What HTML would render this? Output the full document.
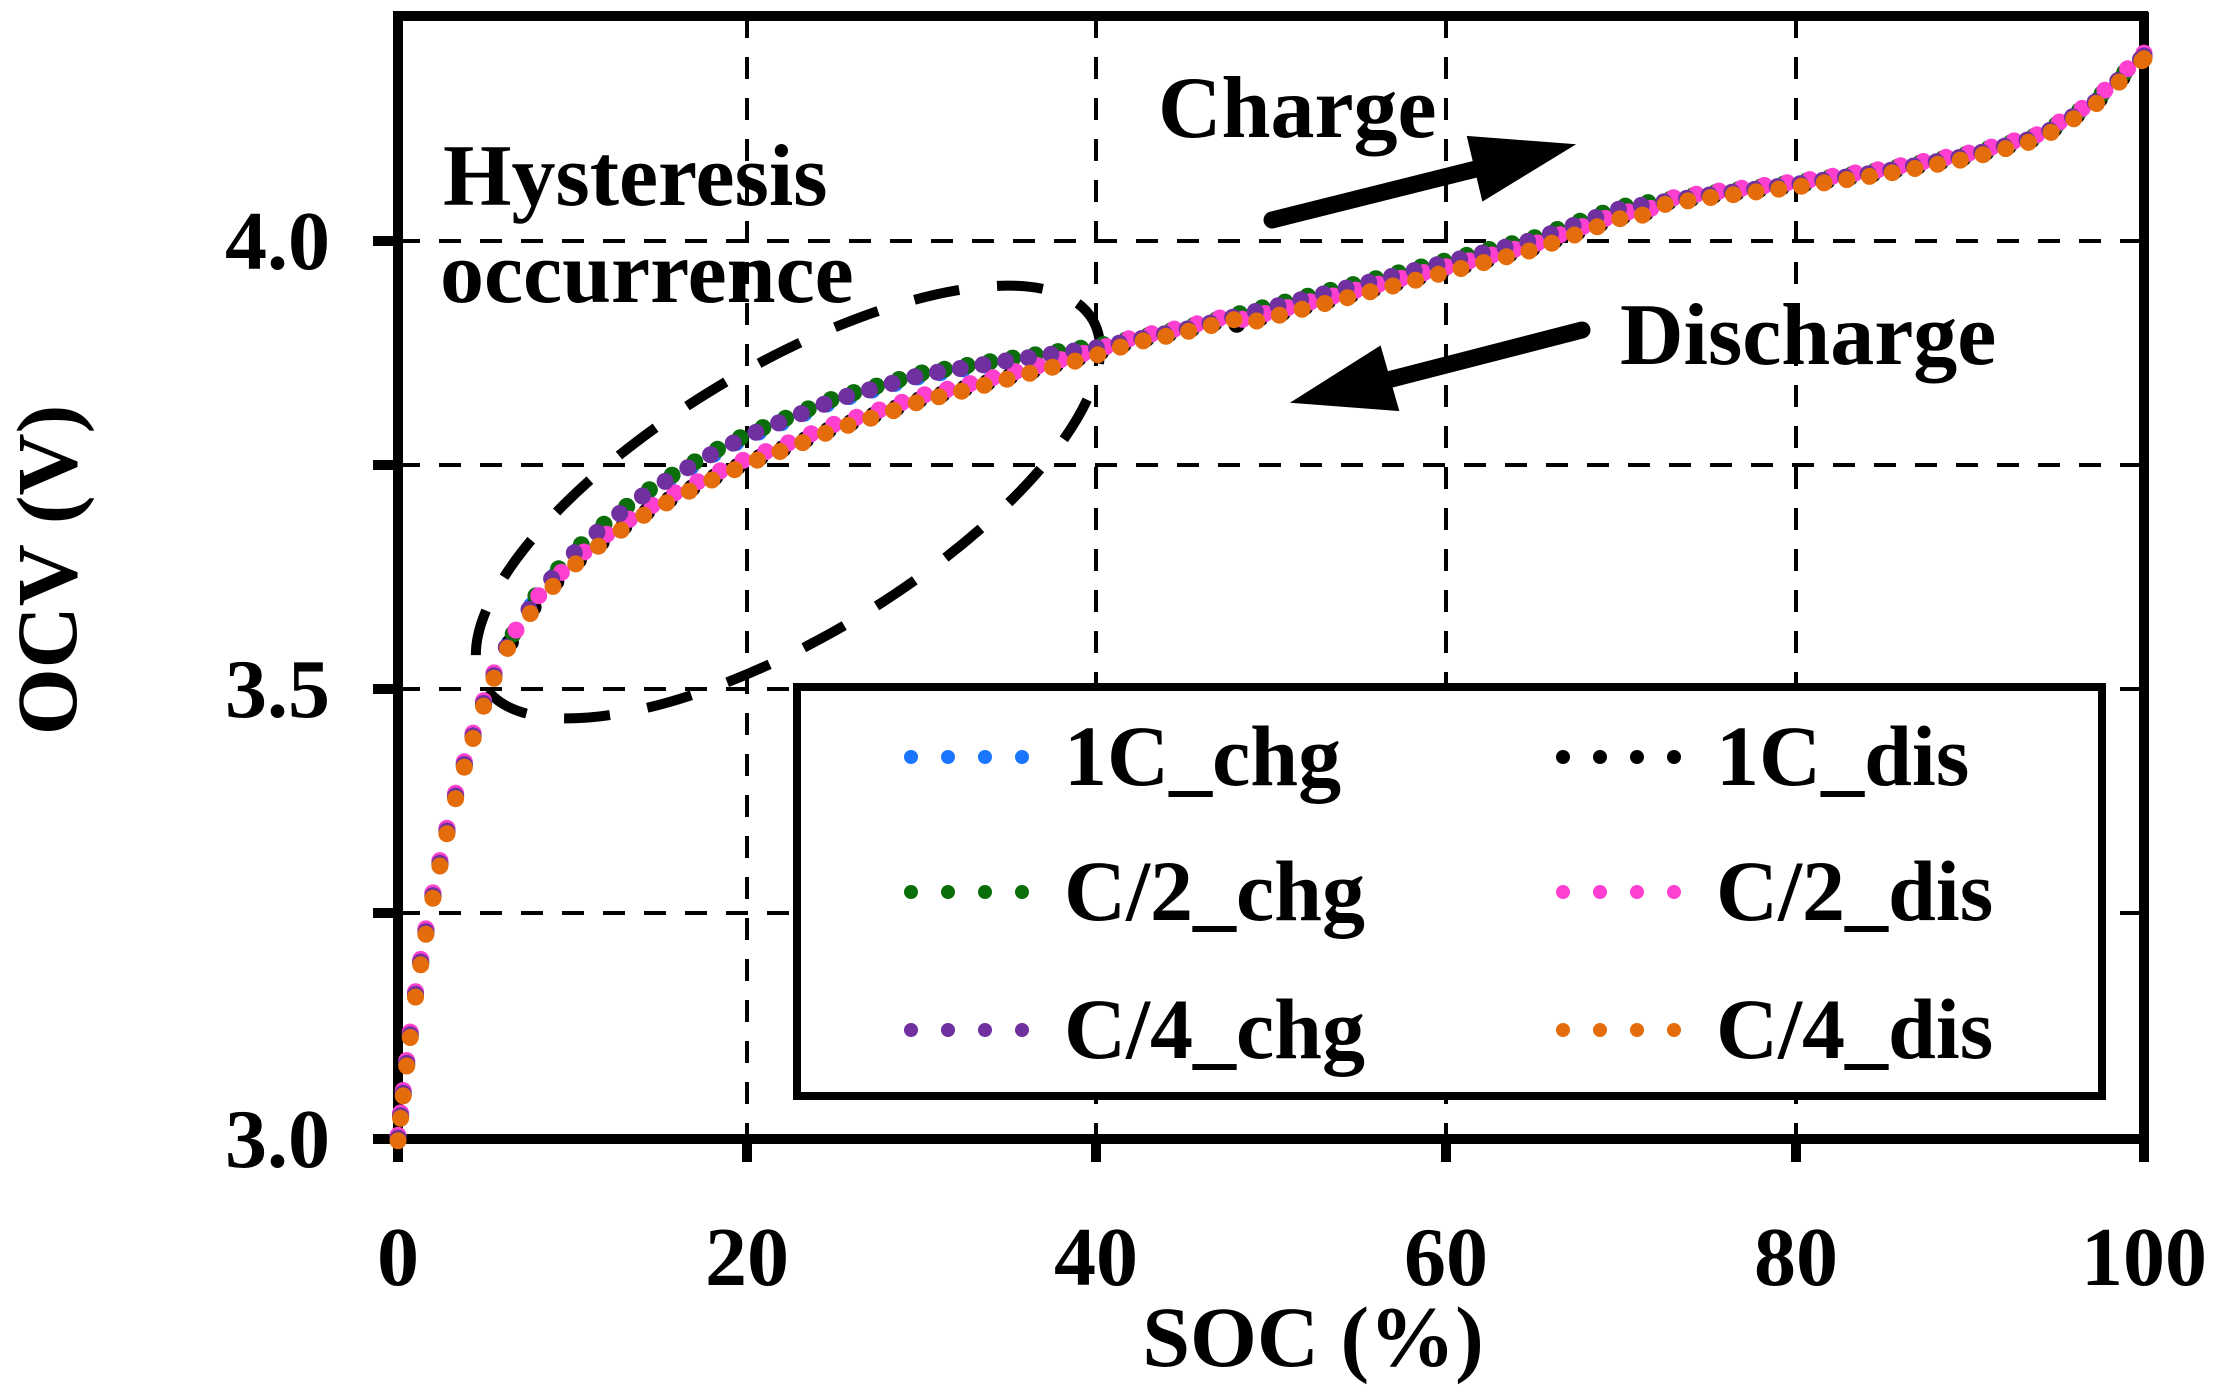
<!DOCTYPE html>
<html><head><meta charset="utf-8"><style>
html,body{margin:0;padding:0;background:#fff;}
svg{display:block;font-family:"Liberation Serif",serif;font-weight:bold;}
</style></head><body>
<svg id="s" width="2240" height="1397" viewBox="0 0 2240 1397" xmlns="http://www.w3.org/2000/svg">
<rect width="2240" height="1397" fill="#fff"/>
<g id="grid" stroke="#000" stroke-width="4" stroke-dasharray="22,19" fill="none">
<line x1="398" y1="241" x2="2144" y2="241"/>
<line x1="398" y1="465" x2="2144" y2="465"/>
<line x1="398" y1="689" x2="2144" y2="689"/>
<line x1="398" y1="913" x2="2144" y2="913"/>
<line x1="747" y1="16" x2="747" y2="1139"/>
<line x1="1096" y1="16" x2="1096" y2="1139"/>
<line x1="1446" y1="16" x2="1446" y2="1139"/>
<line x1="1796" y1="16" x2="1796" y2="1139"/>
</g>
<g stroke="#000" stroke-width="10" fill="none">
<line x1="398" y1="12" x2="398" y2="1144"/>
<line x1="393" y1="16" x2="2148" y2="16"/>
<line x1="2144" y1="12" x2="2144" y2="1144"/>
<line x1="373" y1="1139" x2="2148" y2="1139"/>
<line x1="373" y1="241" x2="398" y2="241"/>
<line x1="373" y1="465" x2="398" y2="465"/>
<line x1="373" y1="689" x2="398" y2="689"/>
<line x1="373" y1="913" x2="398" y2="913"/>
<line x1="398" y1="1139" x2="398" y2="1162"/>
<line x1="747" y1="1139" x2="747" y2="1162"/>
<line x1="1096" y1="1139" x2="1096" y2="1162"/>
<line x1="1446" y1="1139" x2="1446" y2="1162"/>
<line x1="1796" y1="1139" x2="1796" y2="1162"/>
<line x1="2144" y1="1139" x2="2144" y2="1162"/>
</g>
<ellipse cx="788" cy="502" rx="355" ry="135" transform="rotate(-31 788 502)" fill="none" stroke="#000" stroke-width="10" stroke-dasharray="46,38"/>
<g id="dots"></g>
<rect x="797" y="687" width="1305" height="409" fill="#fff" stroke="#000" stroke-width="8"/>
<g id="leg"></g>
<g font-size="86" fill="#000">
<text x="1064" y="785">1C_chg</text>
<text x="1064" y="920">C/2_chg</text>
<text x="1064" y="1058">C/4_chg</text>
<text x="1716" y="785">1C_dis</text>
<text x="1716" y="920">C/2_dis</text>
<text x="1716" y="1058">C/4_dis</text>
</g>
<g font-size="84" fill="#000" text-anchor="end">
<text x="330" y="269">4.0</text>
<text x="330" y="717">3.5</text>
<text x="330" y="1167">3.0</text>
</g>
<g font-size="84" fill="#000" text-anchor="middle">
<text x="398" y="1285">0</text>
<text x="747" y="1285">20</text>
<text x="1096" y="1285">40</text>
<text x="1446" y="1285">60</text>
<text x="1796" y="1285">80</text>
<text x="2144" y="1285">100</text>
<text x="1313" y="1366" font-size="86">SOC (%)</text>
<text x="0" y="0" font-size="86" transform="translate(76 570) rotate(-90)">OCV (V)</text>
</g>
<g font-size="88" fill="#000">
<text x="443" y="205">Hysteresis</text>
<text x="440" y="302">occurrence</text>
<text x="1158" y="137">Charge</text>
<text x="1620" y="364">Discharge</text>
</g>
<g fill="#000" stroke="#000">
<line x1="1272" y1="220" x2="1480" y2="168" stroke-width="17" stroke-linecap="round"/>
<polygon points="1468,137 1573,145 1483,200" stroke-width="2"/>
<line x1="1582" y1="330" x2="1380" y2="382" stroke-width="17" stroke-linecap="round"/>
<polygon points="1380,347 1293,402 1398,410" stroke-width="2"/>
</g>
</svg>
<script>
(function(){
var NS="http://www.w3.org/2000/svg";
function X(s){return 398+17.46*s;}
function Y(v){return 1139-(v-3)*898;}
var K=[[0,3.0],[0.3,3.05],[0.6,3.1],[1,3.16],[1.5,3.22],[2,3.27],[3,3.36],[4,3.43],[5,3.49],[6,3.54],[8,3.605],[10,3.65],[12,3.685],[14,3.715],[16,3.74],[18,3.762],[20,3.782],[25,3.822],[30,3.85],[35,3.866],[40,3.88],[45,3.9],[50,3.925],[55,3.95],[60,3.975],[65,4.0],[70,4.035],[75,4.05],[80,4.062],[85,4.076],[90,4.094],[94,4.115],[97,4.15],[100,4.205]];
function f(s){for(var i=1;i<K.length;i++){if(s<=K[i][0]){var a=K[i-1],b=K[i];return a[1]+(b[1]-a[1])*(s-a[0])/(b[0]-a[0]);}}return K[K.length-1][1];}
function d(s){ if(s<6||s>42) return (s>48&&s<72)?0.008:0; return 0.03*Math.sin(Math.PI*(s-6)/36);}
var g=document.getElementById('dots');
function dot(x,y,c){var e=document.createElementNS(NS,'circle');e.setAttribute('cx',x.toFixed(1));e.setAttribute('cy',y.toFixed(1));e.setAttribute('r','8.5');e.setAttribute('fill',c);g.appendChild(e);}
function pts(){var a=[0,0.15,0.3,0.5,0.7,1,1.3,1.6,2,2.4,2.8,3.3,3.8,4.3,4.9,5.5];for(var s=6.2;s<=100;s+=1.3)a.push(s);a.push(100);return a;}
var S=[['#1a75ff',0,0.2,0],['#000',1,0.3,0],['#0a6e0a',0,0.5,0.003],['#ff3fd0',1,0.7,0.004],['#7030a0',0,0,0.001],['#e46c0a',1,0.1,-0.002]];
S.forEach(function(sr){var P=pts();P.forEach(function(s,i){var ss=Math.min(100,s+(i>15?sr[2]*0.8:0));var v=f(ss)-(sr[1]?d(ss):0)+sr[3];dot(X(ss),Y(v),sr[0]);});});
var L=document.getElementById('leg');
var rows=[[785-28,'#1a75ff','#000'],[920-28,'#0a6e0a','#ff3fd0'],[1058-28,'#7030a0','#e46c0a']];
rows.forEach(function(r){for(var k=0;k<4;k++){[[911,r[1]],[1563,r[2]]].forEach(function(p){var e=document.createElementNS(NS,'circle');e.setAttribute('cx',p[0]+k*37);e.setAttribute('cy',r[0]);e.setAttribute('r','7');e.setAttribute('fill',p[1]);L.appendChild(e);});}});
})();
</script>
</body></html>
